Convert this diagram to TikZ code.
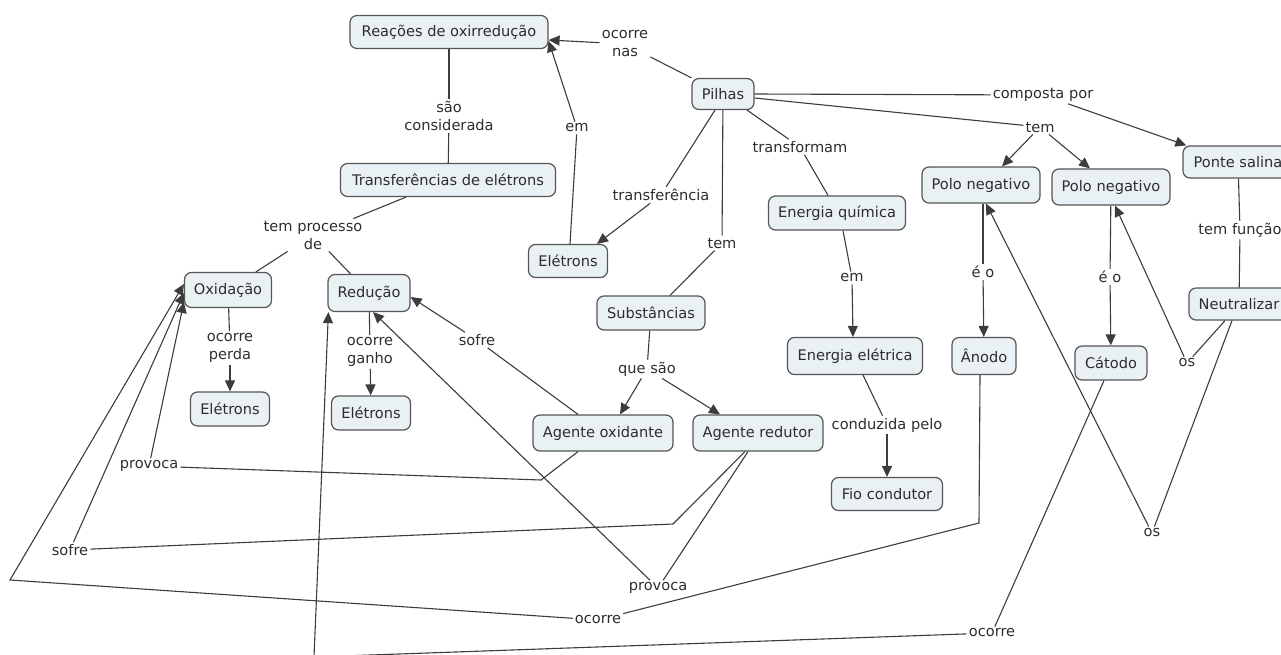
\documentclass[tikz,border=0pt]{standalone}
\usepackage{fontspec}
\setmainfont{DejaVu Sans}
\usetikzlibrary{arrows.meta}
\definecolor{boxfill}{RGB}{233,241,245}
\definecolor{boxline}{RGB}{85,85,85}
\definecolor{linkc}{RGB}{60,60,60}
\definecolor{txt}{RGB}{45,45,45}
\begin{document}
\begin{tikzpicture}[x=1pt,y=-1pt,
  concept/.style={draw=boxline,line width=1.2pt,fill=boxfill,rounded corners=7pt,text=txt,
    font=\fontsize{14.6}{18}\selectfont,minimum height=33pt,inner xsep=3pt,inner ysep=3pt},
  lbl/.style={text=txt,font=\fontsize{14.6}{18}\selectfont,align=center,inner sep=2pt},
  link/.style={draw=linkc,line width=1.1pt},
  arr/.style={link,-{Triangle[length=11pt,width=10pt]}}]
\useasboundingbox (0,0) rectangle (1281,654);

% concepts
\node[concept,minimum width=198pt] (reacoes) at (449,32) {Reações de oxirredução};
\node[concept,minimum width=62pt,minimum height=31pt] (pilhas) at (723,94) {Pilhas};
\node[concept,minimum width=215pt] (transf) at (448,180) {Transferências de elétrons};
\node[concept,minimum width=79pt] (eltop) at (568,261) {Elétrons};
\node[concept,minimum width=137pt,minimum height=34pt] (enq) at (837,213) {Energia química};
\node[concept,minimum width=118pt,minimum height=36pt] (polo1) at (981,185) {Polo negativo};
\node[concept,minimum width=118pt,minimum height=36pt] (polo2) at (1111,187) {Polo negativo};
\node[concept,minimum width=110pt,minimum height=32pt] (ponte) at (1238,162) {Ponte salina};
\node[concept,minimum width=87pt,minimum height=35pt] (oxid) at (228,290) {Oxidação};
\node[concept,minimum width=82pt,minimum height=37pt] (red) at (369,293) {Redução};
\node[concept,minimum width=108pt,minimum height=34pt] (subst) at (651,313) {Substâncias};
\node[concept,minimum width=135pt,minimum height=37pt] (enelet) at (855,356) {Energia elétrica};
\node[concept,minimum width=64pt,minimum height=37pt] (anodo) at (984,356) {Ânodo};
\node[concept,minimum width=72pt,minimum height=34pt] (catodo) at (1111,363) {Cátodo};
\node[concept,minimum width=100pt,minimum height=32pt] (neutr) at (1239,304) {Neutralizar};
\node[concept,minimum width=79pt,minimum height=34pt] (elox) at (230,409) {Elétrons};
\node[concept,minimum width=79pt,minimum height=34pt] (elred) at (371,413) {Elétrons};
\node[concept,minimum width=140pt,minimum height=36pt] (agox) at (603,433) {Agente oxidante};
\node[concept,minimum width=130pt,minimum height=36pt] (agred) at (758,433) {Agente redutor};
\node[concept,minimum width=111pt,minimum height=33pt] (fio) at (887,494) {Fio condutor};

% linking phrases
\node[lbl] (ocN) at (625,44) {ocorre\\nas};
\node[lbl] (saoL) at (449,116) {são\\considerada};
\node[lbl] (emT) at (577,128) {em};
\node[lbl] (transL) at (661,195) {transferência};
\node[lbl] (temS) at (722,243) {tem};
\node[lbl] (transfL) at (800,147) {transformam};
\node[lbl] (emE) at (852,278) {em};
\node[lbl] (compL) at (1043,95) {composta por};
\node[lbl] (temP) at (1040,127) {tem};
\node[lbl] (eo1) at (983,272) {é o};
\node[lbl] (eo2) at (1110,277) {é o};
\node[lbl] (osL) at (1152,533) {os};
\node[lbl] (osU) at (1187,363) {os};
\node[lbl] (temF) at (1240,230) {tem função};
\node[lbl] (condL) at (887,425) {conduzida pelo};
\node[lbl] (tpL) at (313,235) {tem processo\\de};
\node[lbl] (perdaL) at (230,348) {ocorre\\perda};
\node[lbl] (ganhoL) at (370,352) {ocorre\\ganho};
\node[lbl] (sofM) at (477,340) {sofre};
\node[lbl] (queS) at (647,369) {que são};
\node[lbl] (provL) at (149,466) {provoca};
\node[lbl] (sofL) at (70,550) {sofre};
\node[lbl] (provB) at (658,588) {provoca};
\node[lbl] (ocL) at (598,620) {ocorre};
\node[lbl] (ocR) at (992,633) {ocorre};

% bend points
\coordinate (b1) at (541,480);
\coordinate (b2) at (673,524);
\coordinate (b3) at (979,523);
\coordinate (b4) at (10,580);
\coordinate (b5) at (314,657);

% connectors
\draw[link] (pilhas) -- (ocN);
\draw[arr] (ocN) -- ([yshift=-8pt]reacoes.east);
\draw[link] ([xshift=2pt]eltop.north) -- (emT);
\draw[arr] (emT) -- ([yshift=-9pt]reacoes.east);
\draw[link] (reacoes) -- (saoL);
\draw[link] (saoL) -- (transf);
\draw[link] (transf) -- (tpL);
\draw[link] (tpL) -- (oxid);
\draw[link] (tpL) -- (red);
\draw[link] (oxid) -- (perdaL);
\draw[arr] (perdaL) -- (elox);
\draw[link] (red) -- (ganhoL);
\draw[arr] (ganhoL) -- (elred);

\draw[link] ([xshift=-8pt]pilhas.south) -- (transL);
\draw[arr] (transL) -- ([xshift=29pt]eltop.north);
\draw[link] (pilhas) -- (temS);
\draw[link] (temS) -- ([xshift=19pt]subst.north);
\draw[link] ([xshift=24pt]pilhas.south) -- (transfL);
\draw[link] (transfL) -- ([xshift=-9pt]enq.north);
\draw[link] ([xshift=6pt]enq.south) -- (emE);
\draw[arr] (emE) -- ([xshift=-2pt]enelet.north);
\draw[link] ([xshift=8pt]enelet.south) -- (condL);
\draw[arr] (condL) -- (fio);

\draw[link] (pilhas.east) -- (compL);
\draw[arr] (compL) -- ([xshift=4pt]ponte.north west);
\draw[link] ([yshift=-4pt]pilhas.east) -- (temP);
\draw[arr] (temP) -- ([xshift=21pt]polo1.north);
\draw[arr] (temP) -- ([xshift=-21pt]polo2.north);
\draw[link] ([xshift=2pt]polo1.south) -- (eo1);
\draw[arr] (eo1) -- (anodo);
\draw[link] (polo2) -- (eo2);
\draw[arr] (eo2) -- (catodo);
\draw[link] (ponte) -- (temF);
\draw[link] (temF) -- (neutr);
\draw[link] ([xshift=-7pt]neutr.south) -- (osL);
\draw[arr] (osL) -- ([xshift=5pt]polo1.south);
\draw[link] ([xshift=-14pt]neutr.south) -- (osU);
\draw[arr] (osU) -- ([xshift=4pt]polo2.south);

\draw[link] (subst) -- (queS);
\draw[arr] (queS) -- ([xshift=17pt]agox.north);
\draw[arr] (queS) -- ([xshift=-38pt]agred.north);
\draw[link] ([xshift=-25pt]agox.north) -- (sofM);
\draw[arr] (sofM) -- ([yshift=-4pt]red.east);
\draw[link] ([xshift=-25pt]agox.south) -- (b1) -- (provL);
\draw[arr] (provL) -- ([yshift=-12pt]oxid.west);
\draw[link] ([xshift=-13pt]agred.south) -- (b2) -- (sofL);
\draw[arr] (sofL) -- ([yshift=-3pt]oxid.west);
\draw[link] ([xshift=-10pt]agred.south) -- (provB);
\draw[arr] (provB) -- ([xshift=4pt]red.south);
\draw[link] ([xshift=-4pt]anodo.south) -- (b3) -- (ocL);
\draw[arr] (ocL) -- (b4) -- ([yshift=6pt]oxid.west);
\draw[link] ([xshift=-7pt]catodo.south) -- (ocR);
\draw[arr] (ocR) -- (b5) -- ([xshift=1pt]red.south west);
\end{tikzpicture}
\end{document}
